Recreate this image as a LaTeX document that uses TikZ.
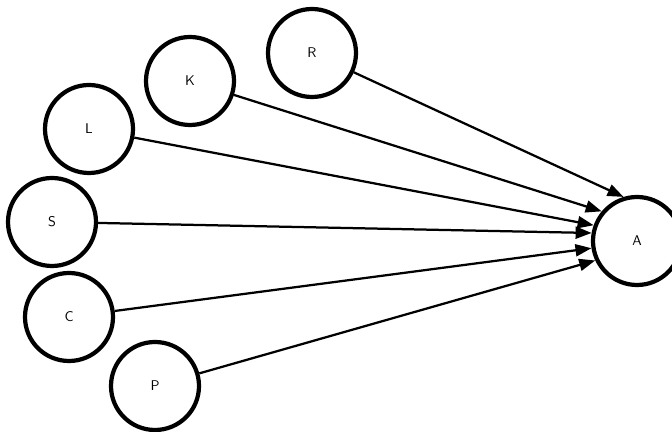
\documentclass[tikz,border=0pt]{standalone}
\usepackage{tikz}
\usetikzlibrary{arrows.meta}

\begin{document}
\begin{tikzpicture}[>={Triangle[length=4mm,width=3mm]},font=\sffamily,
  vertex/.style={circle,draw,line width=3pt,minimum size=2.2cm,inner sep=0pt},
  edge/.style={->,line width=1.6pt}]
\useasboundingbox (0,0) rectangle (16.8,10.8);
\clip (0,0) rectangle (16.8,10.8);
\node[vertex] (R) at (7.8,9.475) {R};
\node[vertex] (K) at (4.75,8.775) {K};
\node[vertex] (L) at (2.225,7.575) {L};
\node[vertex] (S) at (1.3,5.25) {S};
\node[vertex] (C) at (1.725,2.875) {C};
\node[vertex] (P) at (3.875,1.15) {P};
\node[vertex] (A) at (15.925,4.775) {A};
\draw[edge] (R) -- (A.107);
\draw[edge] (K) -- (A.140);
\draw[edge] (L) -- (A.160);
\draw[edge] (S) -- (A.170);
\draw[edge] (C) -- (A.189);
\draw[edge] (P) -- (A.205);
\end{tikzpicture}
\end{document}
